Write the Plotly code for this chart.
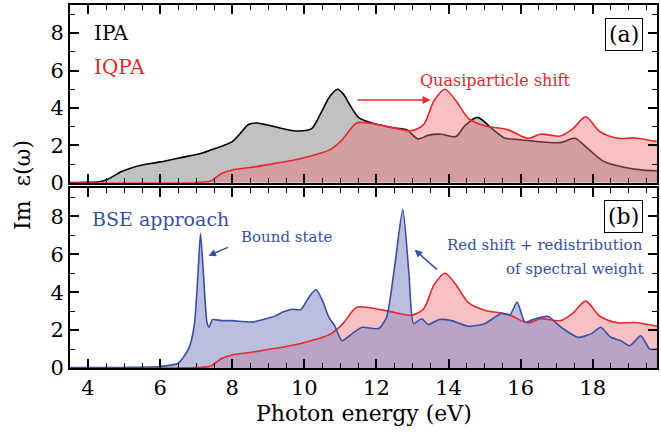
import plotly.graph_objects as go

# ---------------- data ----------------
ipa_x = [3.5, 4.0, 4.3, 4.5, 4.7, 4.9, 5.2, 5.5, 6.0, 6.5, 7.1, 7.55, 8.0, 8.25, 8.45, 8.65, 8.95,
         9.5, 9.85, 10.2, 10.45, 10.7, 10.92, 11.1, 11.25, 11.5, 11.87, 12.5, 12.85, 13.15,
         13.45, 13.8, 14.2, 14.45, 14.8, 15.2, 15.55, 15.85, 16.4, 17.1, 17.5, 17.85, 18.3,
         18.9, 19.4, 19.8]
ipa_y = [0.02, 0.03, 0.06, 0.15, 0.35, 0.58, 0.8, 0.95, 1.12, 1.32, 1.55, 1.85, 2.2, 2.7, 3.12, 3.2, 3.1,
         2.85, 2.77, 2.9, 3.7, 4.6, 5.0, 4.7, 4.2, 3.5, 3.2, 2.93, 2.82, 2.35,
         2.55, 2.6, 2.47, 3.05, 3.5, 2.9, 2.4, 2.33, 2.22, 2.15, 2.38, 1.85, 1.15,
         0.82, 0.68, 0.65]

iqpa_x = [3.5, 7.0, 7.4, 7.7, 8.0, 8.5, 8.95, 9.85, 10.3, 10.7, 11.05, 11.45, 11.85, 12.5, 12.95,
          13.3, 13.6, 13.9, 14.2, 14.55, 15.0, 15.65, 16.2, 16.55, 17.1, 17.45, 17.8, 18.2,
          18.7, 19.15, 19.8]
iqpa_y = [0.0, 0.02, 0.1, 0.5, 0.69, 0.82, 0.96, 1.27, 1.5, 1.76, 2.3, 3.2, 3.17, 2.93, 2.78,
          3.1, 4.4, 5.0, 4.4, 3.45, 3.05, 2.83, 2.38, 2.6, 2.5, 2.9, 3.53, 2.73,
          2.38, 2.4, 2.2]

bse_x = [3.5, 5.0, 6.0, 6.5, 6.8, 6.95, 7.05, 7.12, 7.2, 7.3, 7.36, 7.45, 7.7, 8.0, 8.3, 8.56,
         8.94, 9.2, 9.4, 9.66, 9.9, 10.13, 10.32, 10.5, 10.68, 10.85, 11.04, 11.32, 11.6,
         12.06, 12.28, 12.5, 12.73, 12.9, 13.03, 13.25, 13.44, 13.72, 14.08, 14.55, 15.0,
         15.46, 15.7, 15.9, 16.12, 16.4, 16.76, 17.12, 17.59, 17.95, 18.22, 18.5, 18.78,
         19.02, 19.33, 19.58, 19.8]
bse_y = [0.02, 0.03, 0.08, 0.25, 1.05, 2.3, 5.0, 7.1, 5.0, 2.4, 2.15, 2.55, 2.5, 2.5, 2.45, 2.42,
         2.6, 2.75, 2.95, 3.1, 3.08, 3.75, 4.14, 3.57, 2.68, 2.2, 1.44, 1.8, 2.15,
         2.08, 2.68, 5.3, 8.37, 5.0, 2.34, 2.6, 2.3, 2.55, 2.5, 2.2, 2.34,
         2.88, 2.8, 3.48, 2.42, 2.6, 2.72, 2.15, 1.62, 1.8, 2.15, 1.62, 1.44,
         1.17, 1.7, 1.0, 1.0]

x_ticks = [4, 6, 8, 10, 12, 14, 16, 18]
y_ticks = [0, 2, 4, 6, 8]

# ---------------- style ----------------
FONT = "DejaVu Serif"
BLACK = "#000000"
RED = "#e8262b"
BLUE = "#3850a2"
GRAY_FILL = "#c0c1c1"
PINK_ALPHA = "rgba(237,113,117,0.435)"
PINK_SOLID = "#f7c1c3"
BLUE_ALPHA = "rgba(140,143,200,0.58)"

fig = go.Figure()

def spl(s=0.8):
    return dict(shape="spline", smoothing=s)

# top panel (a): x2 / y2
fig.add_trace(go.Scatter(x=ipa_x, y=ipa_y, xaxis="x2", yaxis="y2", mode="lines",
                         line=dict(color=BLACK, width=1.6, **spl()),
                         fill="tozeroy", fillcolor=GRAY_FILL, showlegend=False))
fig.add_trace(go.Scatter(x=iqpa_x, y=iqpa_y, xaxis="x2", yaxis="y2", mode="lines",
                         line=dict(color=RED, width=1.6, **spl()),
                         fill="tozeroy", fillcolor=PINK_ALPHA, showlegend=False))

# bottom panel (b): x / y  -- fills first, lines on top
fig.add_trace(go.Scatter(x=iqpa_x, y=iqpa_y, xaxis="x", yaxis="y", mode="lines",
                         line=dict(color="rgba(0,0,0,0)", width=0, **spl()),
                         fill="tozeroy", fillcolor=PINK_SOLID, showlegend=False))
fig.add_trace(go.Scatter(x=bse_x, y=bse_y, xaxis="x", yaxis="y", mode="lines",
                         line=dict(color="rgba(0,0,0,0)", width=0, **spl(0.6)),
                         fill="tozeroy", fillcolor=BLUE_ALPHA, showlegend=False))
fig.add_trace(go.Scatter(x=iqpa_x, y=iqpa_y, xaxis="x", yaxis="y", mode="lines",
                         line=dict(color=RED, width=1.6, **spl()), showlegend=False))
fig.add_trace(go.Scatter(x=bse_x, y=bse_y, xaxis="x", yaxis="y", mode="lines",
                         line=dict(color=BLUE, width=1.6, **spl(0.6)), showlegend=False))

xr = [3.5, 19.78]
yr = [0, 9.5]
axis_common = dict(showline=True, linecolor=BLACK, linewidth=2, mirror="allticks",
                   ticks="inside", ticklen=9, tickwidth=1.5, tickcolor=BLACK,
                   showgrid=False, zeroline=False,
                   tickfont=dict(family=FONT, size=21, color=BLACK))
minor_x = dict(ticks="inside", dtick=0.5, tick0=0, ticklen=5, tickwidth=1.2, tickcolor=BLACK)
minor_y = dict(ticks="inside", dtick=1, tick0=0, ticklen=5, tickwidth=1.2, tickcolor=BLACK)

fig.update_layout(
    width=661, height=432,
    margin=dict(l=70, r=2, t=5, b=64),
    paper_bgcolor="white", plot_bgcolor="white",
    xaxis=dict(domain=[0, 1], range=xr, anchor="y", tickvals=x_ticks, minor=minor_x,
               **axis_common),
    yaxis=dict(domain=[0, 0.496], range=yr, anchor="x", tickvals=y_ticks, minor=minor_y,
               **axis_common),
    xaxis2=dict(domain=[0, 1], range=xr, anchor="y2", matches="x", tickvals=x_ticks,
                showticklabels=False, minor=minor_x, **axis_common),
    yaxis2=dict(domain=[0.51, 1], range=yr, anchor="x2", tickvals=y_ticks, minor=minor_y,
                **axis_common),
)

ann = []
# axis titles
ann.append(dict(text="Photon energy (eV)", xref="paper", yref="paper", x=0.5, y=-0.125,
                xanchor="center", yanchor="middle", showarrow=False,
                font=dict(family=FONT, size=22, color=BLACK)))
ann.append(dict(text="Im  ε(ω)", xref="paper", yref="paper", x=-0.082, y=0.504,
                xanchor="center", yanchor="middle", textangle=-90, showarrow=False,
                font=dict(family=FONT, size=22, color=BLACK)))
# panel a labels
ann.append(dict(text="IPA", xref="x2", yref="y2", x=4.11, y=8.0, xanchor="left",
                yanchor="middle", showarrow=False, font=dict(family=FONT, size=20, color=BLACK)))
ann.append(dict(text="IQPA", xref="x2", yref="y2", x=4.11, y=6.19, xanchor="left",
                yanchor="middle", showarrow=False, font=dict(family=FONT, size=20, color=RED)))
ann.append(dict(text="(a)", xref="x2", yref="y2", x=18.86, y=7.9, xanchor="center",
                yanchor="middle", showarrow=False, bordercolor=BLACK, borderwidth=1,
                borderpad=3, bgcolor="white", font=dict(family=FONT, size=22, color=BLACK)))
ann.append(dict(text="Quasiparticle shift", xref="x2", yref="y2", x=15.3, y=5.49,
                xanchor="center", yanchor="middle", showarrow=False,
                font=dict(family=FONT, size=16, color=RED)))
ann.append(dict(text="", xref="x2", yref="y2", x=13.5, y=4.43, axref="x2", ayref="y2",
                ax=11.43, ay=4.43, showarrow=True, arrowhead=2, arrowsize=1, arrowwidth=1.6,
                arrowcolor=RED))
# panel b labels
ann.append(dict(text="BSE approach", xref="x", yref="y", x=4.05, y=7.84, xanchor="left",
                yanchor="middle", showarrow=False, font=dict(family=FONT, size=19, color=BLUE)))
ann.append(dict(text="Bound state", xref="x", yref="y", x=8.2, y=6.93, xanchor="left",
                yanchor="middle", showarrow=False, font=dict(family=FONT, size=15, color=BLUE)))
ann.append(dict(text="", xref="x", yref="y", x=7.34, y=5.92, axref="x", ayref="y",
                ax=7.92, ay=6.4, showarrow=True, arrowhead=2, arrowsize=1, arrowwidth=1.5,
                arrowcolor=BLUE))
ann.append(dict(text="Red shift + redistribution", xref="x", yref="y", x=19.44, y=6.5,
                xanchor="right", yanchor="middle", showarrow=False,
                font=dict(family=FONT, size=15, color=BLUE)))
ann.append(dict(text="of spectral weight", xref="x", yref="y", x=19.44, y=5.23,
                xanchor="right", yanchor="middle", showarrow=False,
                font=dict(family=FONT, size=15, color=BLUE)))
ann.append(dict(text="", xref="x", yref="y", x=13.06, y=6.24, axref="x", ayref="y",
                ax=13.72, ay=5.12, showarrow=True, arrowhead=2, arrowsize=1, arrowwidth=1.5,
                arrowcolor=BLUE))
ann.append(dict(text="(b)", xref="x", yref="y", x=18.86, y=8.0, xanchor="center",
                yanchor="middle", showarrow=False, bordercolor=BLACK, borderwidth=1,
                borderpad=3, bgcolor="white", font=dict(family=FONT, size=22, color=BLACK)))
fig.update_layout(annotations=ann)

fig.write_html("out.html")
